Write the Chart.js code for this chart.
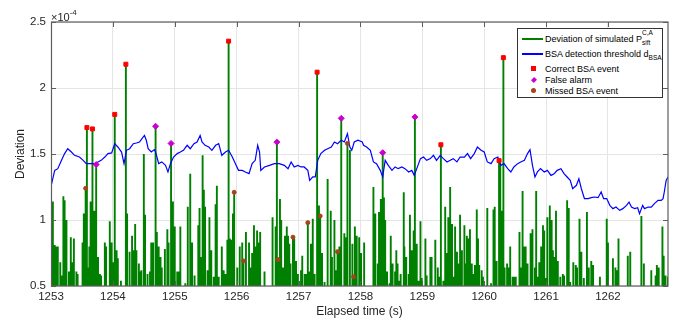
<!DOCTYPE html>
<html>
<head>
<meta charset="utf-8">
<title>BSA detection</title>
<script src="https://cdn.jsdelivr.net/npm/chart.js@4.4.1/dist/chart.umd.min.js"></script>
<style>
  body { margin: 0; background: #fff; }
  #wrap { position: relative; width: 686px; height: 322px; font-family: "Liberation Sans", Arial, Helvetica, sans-serif; color: #262626; }
  #expLabel { position: absolute; left: 51px; top: 7px; font-size: 11px; line-height: 14px; }
  #expLabel sup { font-size: 8px; position: relative; top: -1px; }
  #legend { position: absolute; left: 517px; top: 28px; width: 146px; height: 70px; box-sizing: border-box;
            border: 1px solid #333; background: #fff; font-size: 9px; color: #000; }
  #legend .row { position: absolute; left: 0; width: 144px; height: 12px; line-height: 12px; }
  #legend .txt { position: absolute; left: 27px; top: 0; white-space: nowrap; }
  #legend .ln { position: absolute; left: 4px; width: 21px; top: 5px; height: 2px; }
  #legend .mk { position: absolute; }
  .stack { display: inline-block; position: relative; width: 12px; height: 12px; vertical-align: top; }
  .stack sup, .stack sub { position: absolute; left: 0; font-size: 6.5px; line-height: 7px; }
  .stack sup { top: -4px; }
  .stack sub { top: 6px; }
  .lo { font-size: 6.5px; position: relative; top: 3px; }
</style>
</head>
<body>
<div id="wrap">
  <canvas id="devChart" width="686" height="322"></canvas>
  <div id="expLabel">×10<sup>-4</sup></div>
  <div id="legend">
    <div class="row" style="top:4px"><span class="ln" style="background:#008000"></span>
      <span class="txt">Deviation of simulated P<span class="stack"><sup>C,A</sup><sub>sift</sub></span></span></div>
    <div class="row" style="top:19px"><span class="ln" style="background:#0000ff"></span>
      <span class="txt">BSA detection threshold d<span class="lo">BSA</span></span></div>
    <div class="row" style="top:34px"><span class="mk" style="left:13px;top:3px;width:5px;height:5px;background:#ff0000"></span>
      <span class="txt">Correct BSA event</span></div>
    <div class="row" style="top:45px"><span class="mk" style="left:13.5px;top:3.5px;width:4px;height:4px;background:#cc00cc;transform:rotate(45deg) scaleY(1.1)"></span>
      <span class="txt">False alarm</span></div>
    <div class="row" style="top:56px"><span class="mk" style="left:13px;top:3px;width:5px;height:5px;border-radius:50%;background:#a5431a"></span>
      <span class="txt">Missed BSA event</span></div>
  </div>
</div>
<script>
// values are in units of 1e-4
const xTicks = [1253, 1254, 1255, 1256, 1257, 1258, 1259, 1260, 1261, 1262];
const yTicks = [0.5, 1, 1.5, 2, 2.5];

// deviation spikes (time s, deviation)
const spikeTimes = [
  1253.01, 1253.03, 1253.06, 1253.09, 1253.11, 1253.15, 1253.17, 1253.20, 1253.22, 1253.25,
  1253.29, 1253.32, 1253.34, 1253.37, 1253.41, 1253.43, 1253.51, 1253.53, 1253.60, 1253.62,
  1253.64, 1253.70, 1253.76, 1253.79, 1253.81, 1253.87, 1253.89, 1253.95, 1253.98, 1254.00,
  1254.06, 1254.08, 1254.13, 1254.23, 1254.27, 1254.31, 1254.33, 1254.36, 1254.38, 1254.42,
  1254.43, 1254.46, 1254.50, 1254.52, 1254.56, 1254.60, 1254.62, 1254.65,
  1254.71, 1254.74, 1254.77, 1254.79, 1254.84, 1254.88, 1254.90, 1254.97, 1255.00, 1255.04,
  1255.06, 1255.09, 1255.17, 1255.21, 1255.25, 1255.28, 1255.32, 1255.38, 1255.40, 1255.43,
  1255.45, 1255.47, 1255.49, 1255.53, 1255.56, 1255.59, 1255.63, 1255.66, 1255.68, 1255.71,
  1255.76, 1255.79, 1255.82, 1255.85, 1255.89, 1255.91, 1255.94, 1256.01, 1256.05, 1256.09,
  1256.15, 1256.20, 1256.23, 1256.25, 1256.28, 1256.30, 1256.33,
  1256.36, 1256.38, 1256.45, 1256.58, 1256.63, 1256.70, 1256.72, 1256.75, 1256.78, 1256.81,
  1256.83, 1256.85, 1256.87, 1256.93, 1256.96, 1256.99, 1257.04, 1257.06, 1257.10, 1257.12,
  1257.18, 1257.20, 1257.23, 1257.26, 1257.33, 1257.38, 1257.42, 1257.47, 1257.52, 1257.54,
  1257.58, 1257.61, 1257.66, 1257.74, 1257.77, 1257.83, 1257.87, 1257.91, 1257.94, 1257.98,
  1258.01,
  1258.06, 1258.21, 1258.24, 1258.28, 1258.30, 1258.33, 1258.38, 1258.40, 1258.43, 1258.47,
  1258.49, 1258.52, 1258.56, 1258.58, 1258.60, 1258.63, 1258.65, 1258.70, 1258.71, 1258.74,
  1258.78, 1258.80, 1258.83, 1258.86, 1258.91, 1258.94, 1258.97, 1258.99, 1259.05, 1259.07,
  1259.13, 1259.15, 1259.21, 1259.25, 1259.28, 1259.34, 1259.37, 1259.40, 1259.42, 1259.45,
  1259.48, 1259.50, 1259.53, 1259.56, 1259.59, 1259.61, 1259.64, 1259.68, 1259.70,
  1259.72, 1259.74, 1259.77, 1259.80, 1259.83, 1259.85, 1259.88, 1259.90, 1259.92, 1259.96,
  1259.98, 1260.05, 1260.11, 1260.15, 1260.17, 1260.20, 1260.26, 1260.29, 1260.33, 1260.37,
  1260.39, 1260.42, 1260.46, 1260.49, 1260.51, 1260.57, 1260.59, 1260.62, 1260.65, 1260.67,
  1260.70, 1260.75, 1260.78, 1260.82, 1260.84, 1260.86, 1260.89, 1260.92, 1260.95, 1260.97,
  1261.00, 1261.02, 1261.06, 1261.09, 1261.11, 1261.13, 1261.16, 1261.19, 1261.23, 1261.27,
  1261.29,
  1261.34, 1261.36, 1261.37, 1261.39, 1261.44, 1261.48, 1261.50, 1261.54, 1261.57, 1261.61,
  1261.66, 1261.69, 1261.73, 1261.76, 1261.87, 1261.98, 1262.00, 1262.08, 1262.12, 1262.14,
  1262.17, 1262.32, 1262.36, 1262.54, 1262.58, 1262.70, 1262.77, 1262.79, 1262.82, 1262.88,
  1262.90, 1262.93, 1262.97
];
const spikeValues = [
  0.86, 1.14, 0.81, 0.80, 0.80, 0.68, 0.58, 1.18, 1.15, 1.00,
  0.61, 0.87, 0.68, 0.86, 0.61, 0.59, 0.83, 1.05, 0.64, 0.80,
  1.14, 1.07, 0.72, 0.59, 0.58, 0.83, 0.80, 0.99, 0.83, 0.68,
  0.77, 0.71, 0.54, 1.05, 0.76, 0.88, 0.77, 0.97, 0.77, 0.67,
  0.61, 0.62, 1.50, 1.04, 0.59, 0.61, 0.83, 0.83,
  0.91, 0.80, 0.72, 0.64, 0.78, 0.93, 0.83, 1.14, 0.95, 0.61,
  0.61, 0.95, 0.52, 1.10, 1.35, 0.83, 0.58, 0.96, 1.09, 0.72,
  1.49, 1.23, 1.10, 0.62, 1.02, 0.77, 0.57, 1.12, 1.26, 0.57,
  0.80, 0.62, 0.59, 0.85, 0.86, 0.85, 1.05, 0.64, 0.80, 0.83,
  0.91, 0.83, 0.64, 0.75, 0.96, 0.80, 0.92,
  0.83, 0.91, 0.61, 1.02, 0.95, 1.16, 1.00, 0.64, 0.88, 0.95,
  0.88, 0.82, 0.67, 0.86, 0.69, 0.59, 0.62, 0.73, 0.59, 0.59,
  0.61, 0.82, 1.01, 0.59, 1.11, 0.75, 0.53, 1.31, 1.07, 0.72,
  1.00, 0.62, 0.80, 0.90, 0.87, 1.53, 0.82, 0.95, 0.88, 0.87,
  0.75,
  0.83, 1.25, 1.05, 0.67, 1.06, 1.16, 1.17, 1.00, 0.61, 0.52,
  0.88, 0.67, 0.61, 0.77, 0.67, 0.54, 0.59, 1.21, 0.80, 0.72,
  0.59, 1.04, 0.77, 0.92, 0.82, 0.54, 0.99, 0.56, 0.86, 0.58,
  0.72, 0.72, 0.85, 0.64, 0.57, 0.54, 1.10, 0.75, 1.02, 1.25,
  0.97, 0.57, 0.95, 0.76, 0.67, 1.04, 0.77, 0.96, 0.67,
  0.88, 0.86, 0.93, 0.67, 0.59, 0.66, 1.08, 0.86, 0.66, 0.62,
  0.57, 1.09, 0.52, 1.08, 1.10, 0.69, 1.43, 1.07, 0.64, 0.67,
  0.64, 0.80, 0.57, 0.57, 0.57, 0.91, 0.64, 1.22, 0.80, 0.80,
  0.67, 0.90, 0.93, 0.64, 1.22, 0.57, 0.68, 0.80, 0.96, 0.92,
  0.56, 1.02, 1.11, 1.00, 0.77, 0.72, 1.07, 0.69, 0.57, 0.59,
  0.58,
  1.15, 0.98, 1.09, 0.53, 0.68, 0.66, 0.64, 1.01, 0.76, 0.56,
  1.06, 0.64, 0.69, 0.66, 0.57, 1.01, 0.83, 0.71, 0.64, 0.62,
  0.86, 0.73, 0.76, 1.03, 0.67, 0.62, 0.58, 0.66, 0.64, 0.95,
  0.73, 0.58, 0.57
];

// detection events
const correctTimes = [1253.58, 1253.67, 1254.03, 1254.21, 1255.87, 1257.30, 1259.30, 1260.24, 1260.31];
const correctValues = [1.70, 1.69, 1.80, 2.18, 2.355, 2.12, 1.57, 1.45, 2.23];
const falseTimes = [1253.73, 1254.69, 1254.94, 1256.65, 1257.69, 1258.36, 1258.88];
const falseValues = [1.42, 1.71, 1.58, 1.59, 1.77, 1.51, 1.78];
const missedTimes = [1253.56, 1255.96, 1256.11, 1256.67, 1256.91, 1257.15, 1257.35, 1257.63, 1257.79, 1257.89];
const missedValues = [1.24, 1.21, 0.69, 0.70, 0.87, 0.98, 1.03, 0.76, 1.58, 0.57];

// BSA detection threshold
const thrTimes = [
  1253.00, 1253.06, 1253.11, 1253.17, 1253.22, 1253.27, 1253.33, 1253.38, 1253.46, 1253.52,
  1253.57, 1253.65, 1253.71, 1253.76, 1253.81, 1253.87, 1253.92, 1253.98, 1254.03, 1254.08,
  1254.14, 1254.18, 1254.22, 1254.27, 1254.33, 1254.38, 1254.43, 1254.47, 1254.51, 1254.54,
  1254.57, 1254.62, 1254.67, 1254.69, 1254.74, 1254.79, 1254.85, 1254.89, 1254.93, 1254.98,
  1255.04, 1255.09, 1255.14, 1255.20, 1255.25, 1255.31, 1255.36, 1255.41, 1255.44, 1255.49,
  1255.55, 1255.60, 1255.66, 1255.71, 1255.76, 1255.82, 1255.87, 1255.93, 1255.98, 1256.03,
  1256.09, 1256.14, 1256.20, 1256.25, 1256.30, 1256.34, 1256.37, 1256.39, 1256.45, 1256.53,
  1256.61, 1256.69, 1256.77, 1256.83, 1256.88, 1256.93, 1256.99, 1257.04, 1257.09, 1257.15,
  1257.18, 1257.23, 1257.27, 1257.31, 1257.36, 1257.42, 1257.47, 1257.53, 1257.58, 1257.63,
  1257.69, 1257.74, 1257.79, 1257.83, 1257.86, 1257.90, 1257.96, 1258.03, 1258.05, 1258.10,
  1258.16, 1258.21, 1258.26, 1258.32, 1258.36, 1258.40, 1258.45, 1258.51, 1258.56, 1258.61,
  1258.67, 1258.72, 1258.78, 1258.83, 1258.87, 1258.91, 1258.97, 1259.02, 1259.07, 1259.13,
  1259.18, 1259.23, 1259.29, 1259.34, 1259.40, 1259.45, 1259.50, 1259.56, 1259.61, 1259.68,
  1259.73, 1259.78, 1259.84, 1259.89, 1259.95, 1260.00, 1260.05, 1260.11, 1260.16, 1260.22,
  1260.27, 1260.32, 1260.38, 1260.43, 1260.48, 1260.54, 1260.59, 1260.65, 1260.70, 1260.74,
  1260.78, 1260.82, 1260.86, 1260.91, 1260.97, 1261.02, 1261.08, 1261.13, 1261.18, 1261.24,
  1261.29, 1261.34, 1261.39, 1261.43, 1261.49, 1261.53, 1261.57, 1261.62, 1261.68, 1261.73,
  1261.78, 1261.84, 1261.89, 1261.93, 1261.98, 1262.03, 1262.08, 1262.13, 1262.19, 1262.24,
  1262.30, 1262.34, 1262.38, 1262.43, 1262.48, 1262.51, 1262.56, 1262.59, 1262.65, 1262.70,
  1262.75, 1262.81, 1262.86, 1262.89, 1262.91, 1262.94, 1262.97
];
const thrValues = [
  1.255, 1.376, 1.389, 1.452, 1.503, 1.540, 1.515, 1.490, 1.477, 1.452,
  1.427, 1.427, 1.427, 1.440, 1.452, 1.477, 1.503, 1.508, 1.578, 1.553,
  1.515, 1.427, 1.528, 1.540, 1.578, 1.583, 1.591, 1.616, 1.641, 1.604,
  1.540, 1.515, 1.533, 1.515, 1.427, 1.440, 1.414, 1.364, 1.427, 1.477,
  1.503, 1.515, 1.528, 1.566, 1.540, 1.578, 1.591, 1.641, 1.591, 1.566,
  1.553, 1.528, 1.566, 1.578, 1.490, 1.515, 1.528, 1.477, 1.427, 1.376,
  1.376, 1.364, 1.351, 1.427, 1.452, 1.566, 1.515, 1.376, 1.402, 1.414,
  1.427, 1.427, 1.414, 1.389, 1.440, 1.402, 1.414, 1.402, 1.402, 1.376,
  1.300, 1.326, 1.326, 1.452, 1.503, 1.528, 1.540, 1.553, 1.591, 1.578,
  1.604, 1.591, 1.654, 1.553, 1.528, 1.591, 1.604, 1.591, 1.566, 1.553,
  1.528, 1.440, 1.427, 1.376, 1.326, 1.452, 1.414, 1.376, 1.402, 1.389,
  1.402, 1.389, 1.364, 1.376, 1.338, 1.389, 1.465, 1.477, 1.452, 1.465,
  1.490, 1.452, 1.490, 1.465, 1.440, 1.452, 1.465, 1.440, 1.477, 1.477,
  1.503, 1.465, 1.503, 1.553, 1.528, 1.515, 1.440, 1.427, 1.465, 1.477,
  1.414, 1.427, 1.389, 1.364, 1.402, 1.427, 1.440, 1.452, 1.503, 1.533,
  1.414, 1.326, 1.364, 1.389, 1.364, 1.376, 1.338, 1.351, 1.376, 1.389,
  1.351, 1.326, 1.300, 1.237, 1.263, 1.313, 1.237, 1.162, 1.162, 1.169,
  1.174, 1.169, 1.212, 1.162, 1.162, 1.111, 1.086, 1.098, 1.073, 1.086,
  1.111, 1.136, 1.098, 1.086, 1.093, 1.048, 1.111, 1.086, 1.098, 1.098,
  1.124, 1.149, 1.149, 1.162, 1.212, 1.300, 1.326
];

// every event sits on top of a deviation spike
const spikes = [];
const addSpikes = (times, values) => times.forEach((t, i) => spikes.push([t, values[i]]));
addSpikes(spikeTimes, spikeValues);
addSpikes(correctTimes, correctValues);
addSpikes(falseTimes, falseValues);
addSpikes(missedTimes, missedValues);
spikes.sort((a, b) => a[0] - b[0]);

// the signal sits below the visible range between spikes, so drop to a floor value
const FLOOR = 0;
const deviationPoints = spikes.flatMap(([t, v]) => [{ x: t, y: FLOOR }, { x: t, y: v }, { x: t, y: FLOOR }]);
const thresholdPoints = thrTimes.map((t, i) => ({ x: t, y: thrValues[i] }));
const toPoints = (times, values) => times.map((t, i) => ({ x: t, y: values[i] }));

const AXIS_COLOR = '#5e5e5e';
const FONT = 'Liberation Sans, Arial, Helvetica, sans-serif';

// box around the plot with inward tick marks on all four sides
const boxTicks = {
  id: 'boxTicks',
  afterDatasetsDraw(chart) {
    const { ctx, chartArea: a, scales: { x, y } } = chart;
    const len = 5;
    ctx.save();
    ctx.strokeStyle = AXIS_COLOR;
    ctx.lineWidth = 1;
    ctx.beginPath();
    x.ticks.forEach(t => {
      const px = Math.round(x.getPixelForValue(t.value)) + 0.5;
      ctx.moveTo(px, a.bottom); ctx.lineTo(px, a.bottom - len);
      ctx.moveTo(px, a.top); ctx.lineTo(px, a.top + len);
    });
    y.ticks.forEach(t => {
      const py = Math.round(y.getPixelForValue(t.value)) + 0.5;
      ctx.moveTo(a.left, py); ctx.lineTo(a.left + len, py);
      ctx.moveTo(a.right, py); ctx.lineTo(a.right - len, py);
    });
    ctx.stroke();
    ctx.lineWidth = 1.2;
    ctx.strokeRect(a.left + 0.5, a.top, a.right - a.left - 0.5, a.bottom - a.top);
    ctx.restore();
  }
};

new Chart(document.getElementById('devChart'), {
  type: 'line',
  data: {
    datasets: [
      {
        type: 'scatter', label: 'Correct BSA event', data: toPoints(correctTimes, correctValues), order: 0,
        pointStyle: 'rect', pointRadius: 2.8, backgroundColor: '#ff0000', borderColor: '#ff0000', borderWidth: 1
      },
      {
        type: 'scatter', label: 'False alarm', data: toPoints(falseTimes, falseValues), order: 0,
        pointStyle: 'rectRot', pointRadius: 3, backgroundColor: '#cc00cc', borderColor: '#cc00cc', borderWidth: 1
      },
      {
        type: 'scatter', label: 'Missed BSA event', data: toPoints(missedTimes, missedValues), order: 0,
        pointStyle: 'circle', pointRadius: 2, backgroundColor: '#a5431a', borderColor: '#a5431a', borderWidth: 1
      },
      {
        label: 'BSA detection threshold', data: thresholdPoints, order: 1,
        borderColor: '#0000ff', borderWidth: 1.2, pointRadius: 0, tension: 0
      },
      {
        label: 'Deviation', data: deviationPoints, order: 2,
        borderColor: '#008000', borderWidth: 1.9, pointRadius: 0, tension: 0, borderJoinStyle: 'bevel'
      }
    ]
  },
  options: {
    responsive: false,
    animation: false,
    devicePixelRatio: 1,
    layout: { padding: { top: 22, right: 18, left: 0, bottom: 0 } },
    plugins: { legend: { display: false }, tooltip: { enabled: false } },
    scales: {
      x: {
        type: 'linear', min: 1253, max: 1262.97,
        afterBuildTicks: s => { s.ticks = xTicks.map(v => ({ value: v })); },
        afterFit: s => { s.height = 36; },
        grid: { color: '#e5e5e5', drawTicks: false },
        border: { display: false },
        ticks: {
          padding: 4, maxRotation: 0, autoSkip: false, color: '#262626', font: { family: FONT, size: 11.5 },
          callback: v => String(v)
        },
        title: { display: true, text: 'Elapsed time (s)', color: '#262626', font: { family: FONT, size: 12 }, padding: { top: 0, bottom: 3 } }
      },
      y: {
        type: 'linear', min: 0.5, max: 2.5,
        afterBuildTicks: s => { s.ticks = yTicks.map(v => ({ value: v })); },
        afterFit: s => { s.width = 51; },
        grid: { color: '#e5e5e5', drawTicks: false },
        border: { display: false },
        ticks: { padding: 5, color: '#262626', font: { family: FONT, size: 11.5 }, callback: v => String(v) },
        title: { display: true, text: 'Deviation', color: '#262626', font: { family: FONT, size: 12 }, padding: { top: 13, bottom: 0 } }
      }
    }
  },
  plugins: [boxTicks]
});
</script>
</body>
</html>
